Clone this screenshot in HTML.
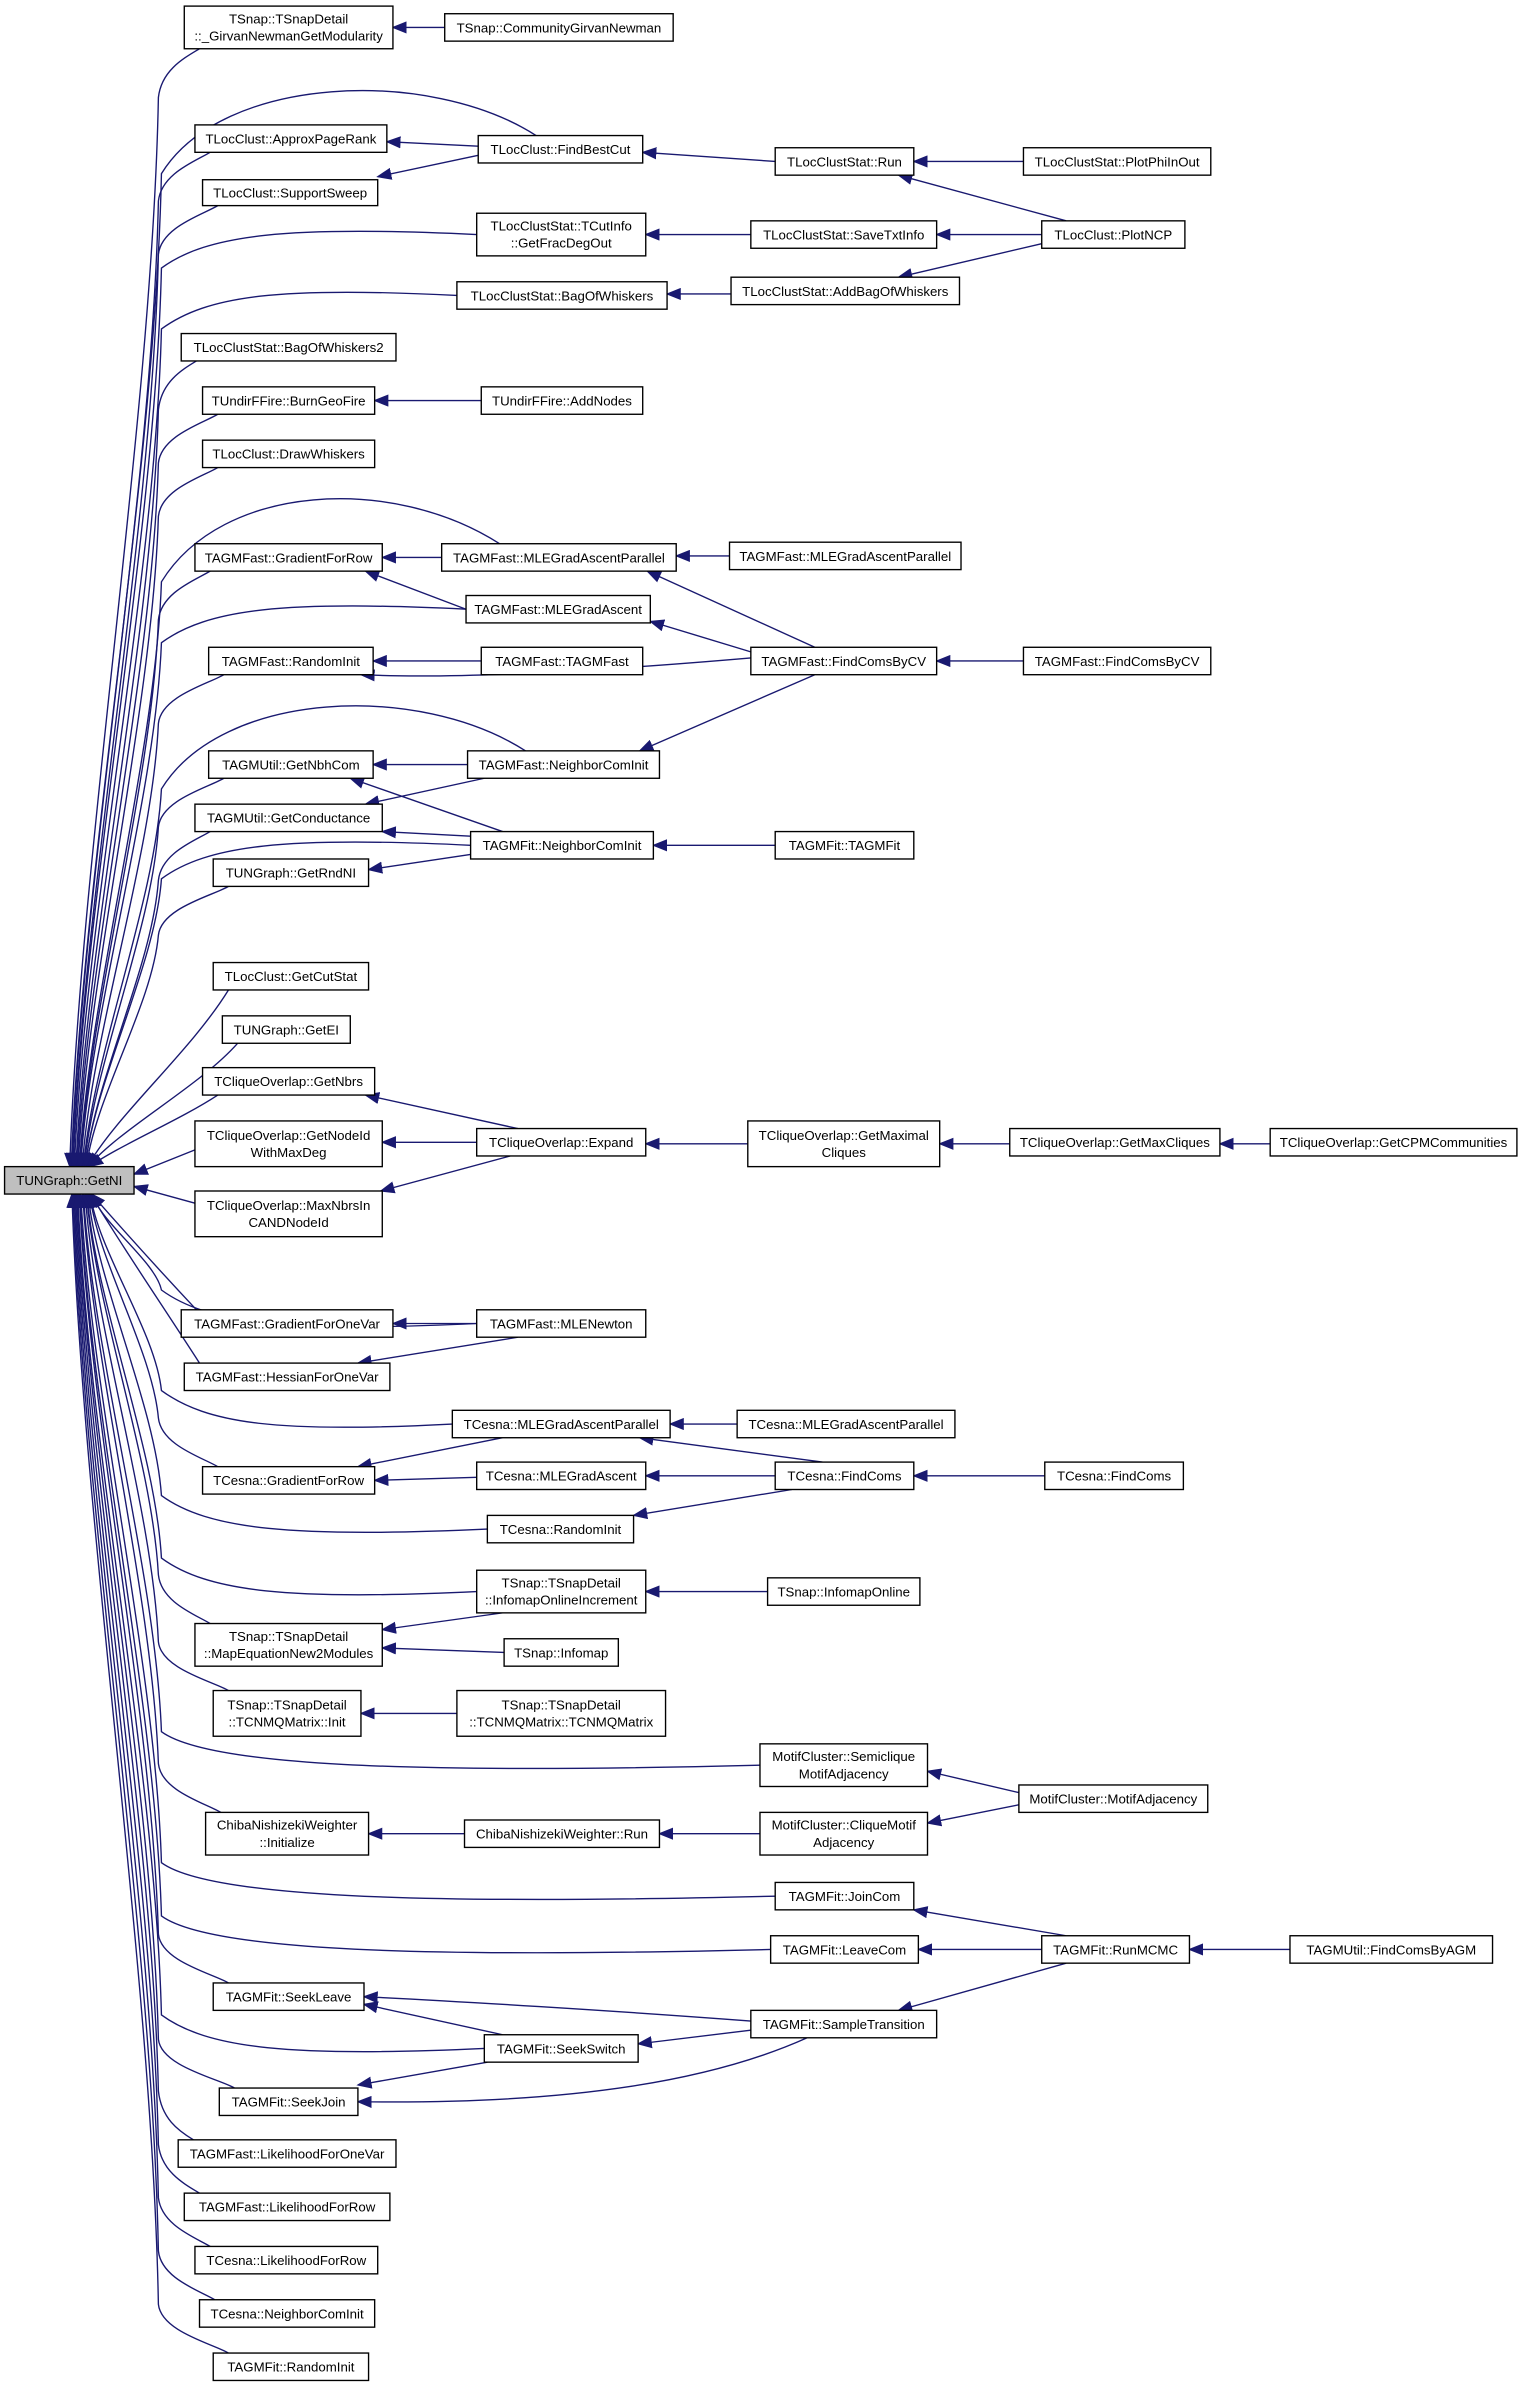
<!DOCTYPE html>
<html><head><meta charset="utf-8"><style>
html,body{margin:0;padding:0;background:#fff;}
svg{display:block}
text{font-family:"Liberation Sans",sans-serif;font-size:8.7px;fill:#000}
</style></head><body>
<svg id="g" width="1523" height="2389" viewBox="0 0 1000 1568.6" xmlns="http://www.w3.org/2000/svg">
<defs><marker id="a" markerWidth="10" markerHeight="8" refX="9" refY="4" orient="auto" markerUnits="userSpaceOnUse"><path d="M0,0 L10,4 L0,8 z" fill="#191970"/></marker></defs>
<g id="edges" fill="none" stroke="#191970" stroke-width="0.9"></g>
<g id="nodes"></g>
</svg>
<script>
var N=[
[3,766,88,784,"TUNGraph::GetNI"],
[121,4,258,32,"TSnap::TSnapDetail\n::_GirvanNewmanGetModularity"],
[292,9,442,27,"TSnap::CommunityGirvanNewman"],
[128,82,254,100,"TLocClust::ApproxPageRank"],
[314,89,422,107,"TLocClust::FindBestCut"],
[509,97,600,115,"TLocClustStat::Run"],
[672,97,795,115,"TLocClustStat::PlotPhiInOut"],
[133,118,248,135,"TLocClust::SupportSweep"],
[313,140,424,168,"TLocClustStat::TCutInfo\n::GetFracDegOut"],
[493,145,615,163,"TLocClustStat::SaveTxtInfo"],
[684,145,778,163,"TLocClust::PlotNCP"],
[300,185,438,203,"TLocClustStat::BagOfWhiskers"],
[480,182,630,200,"TLocClustStat::AddBagOfWhiskers"],
[119,219,260,237,"TLocClustStat::BagOfWhiskers2"],
[133,254,246,272,"TUndirFFire::BurnGeoFire"],
[316,254,422,272,"TUndirFFire::AddNodes"],
[133,289,246,307,"TLocClust::DrawWhiskers"],
[128,357,251,375,"TAGMFast::GradientForRow"],
[290,357,444,375,"TAGMFast::MLEGradAscentParallel"],
[479,356,631,374,"TAGMFast::MLEGradAscentParallel"],
[306,391,427,409,"TAGMFast::MLEGradAscent"],
[137,425,245,443,"TAGMFast::RandomInit"],
[316,425,422,443,"TAGMFast::TAGMFast"],
[493,425,615,443,"TAGMFast::FindComsByCV"],
[672,425,795,443,"TAGMFast::FindComsByCV"],
[137,493,245,511,"TAGMUtil::GetNbhCom"],
[307,493,433,511,"TAGMFast::NeighborComInit"],
[128,528,251,546,"TAGMUtil::GetConductance"],
[309,546,429,564,"TAGMFit::NeighborComInit"],
[509,546,600,564,"TAGMFit::TAGMFit"],
[140,564,242,582,"TUNGraph::GetRndNI"],
[140,632,242,650,"TLocClust::GetCutStat"],
[146,667,230,685,"TUNGraph::GetEI"],
[133,701,246,719,"TCliqueOverlap::GetNbrs"],
[128,736,251,766,"TCliqueOverlap::GetNodeId\nWithMaxDeg"],
[313,741,424,759,"TCliqueOverlap::Expand"],
[491,736,617,766,"TCliqueOverlap::GetMaximal\nCliques"],
[663,741,801,759,"TCliqueOverlap::GetMaxCliques"],
[834,741,996,759,"TCliqueOverlap::GetCPMCommunities"],
[128,782,251,812,"TCliqueOverlap::MaxNbrsIn\nCANDNodeId"],
[119,860,258,878,"TAGMFast::GradientForOneVar"],
[313,860,424,878,"TAGMFast::MLENewton"],
[121,895,256,913,"TAGMFast::HessianForOneVar"],
[297,926,440,944,"TCesna::MLEGradAscentParallel"],
[484,926,627,944,"TCesna::MLEGradAscentParallel"],
[133,963,246,981,"TCesna::GradientForRow"],
[313,960,424,978,"TCesna::MLEGradAscent"],
[509,960,600,978,"TCesna::FindComs"],
[686,960,777,978,"TCesna::FindComs"],
[320,995,416,1013,"TCesna::RandomInit"],
[313,1031,424,1059,"TSnap::TSnapDetail\n::InfomapOnlineIncrement"],
[504,1036,604,1054,"TSnap::InfomapOnline"],
[128,1066,251,1094,"TSnap::TSnapDetail\n::MapEquationNew2Modules"],
[331,1076,406,1094,"TSnap::Infomap"],
[140,1110,237,1140,"TSnap::TSnapDetail\n::TCNMQMatrix::Init"],
[300,1110,437,1140,"TSnap::TSnapDetail\n::TCNMQMatrix::TCNMQMatrix"],
[499,1145,609,1173,"MotifCluster::Semiclique\nMotifAdjacency"],
[669,1172,793,1190,"MotifCluster::MotifAdjacency"],
[135,1190,242,1218,"ChibaNishizekiWeighter\n::Initialize"],
[305,1195,433,1213,"ChibaNishizekiWeighter::Run"],
[499,1190,609,1218,"MotifCluster::CliqueMotif\nAdjacency"],
[509,1236,600,1254,"TAGMFit::JoinCom"],
[506,1271,603,1289,"TAGMFit::LeaveCom"],
[684,1271,781,1289,"TAGMFit::RunMCMC"],
[847,1271,980,1289,"TAGMUtil::FindComsByAGM"],
[140,1302,239,1320,"TAGMFit::SeekLeave"],
[493,1320,615,1338,"TAGMFit::SampleTransition"],
[318,1336,419,1354,"TAGMFit::SeekSwitch"],
[144,1371,235,1389,"TAGMFit::SeekJoin"],
[117,1405,260,1423,"TAGMFast::LikelihoodForOneVar"],
[121,1440,256,1458,"TAGMFast::LikelihoodForRow"],
[128,1475,248,1493,"TCesna::LikelihoodForRow"],
[131,1510,246,1528,"TCesna::NeighborComInit"],
[140,1545,242,1563,"TAGMFit::RandomInit"]
];
var E=[
[292,18,258,18],[314,96,254,93],[314,102,248,116],[509,106,422,100],[672,106,600,106],[700,145,590,115],
[493,154,424,154],[684,154,615,154],[480,193,438,193],[684,160,590,182],[316,263,246,263],
[290,366,251,366],[306,400,240,375],[479,365,444,365],[535,425,425,375],[493,428,427,408],
[316,434,245,434],[672,434,615,434],[307,502,245,502],[318,511,240,528],[535,443,420,493],
[330,546,230,511],[309,549,251,546],[309,561,242,571],[509,555,429,555],
[340,741,240,719],[313,750,251,750],[335,759,250,782],[491,751,424,751],[663,751,617,751],[834,751,801,751],
[313,869,258,869],[340,878,235,895],[330,944,235,963],[484,935,440,935],[540,960,420,944],
[313,970,246,972],[509,969,424,969],[686,969,600,969],[520,978,416,995],
[504,1045,424,1045],[330,1059,251,1070],[331,1085,251,1082],[300,1125,237,1125],
[669,1177,609,1163],[669,1185,609,1197],[499,1204,433,1204],[305,1204,242,1204],
[700,1271,600,1254],[684,1280,603,1280],[847,1280,781,1280],[700,1289,590,1320],
[493,1333,419,1342],[330,1336,239,1316],[320,1354,235,1369],
[128,755,88,771],[128,790,88,779]
];
var C=[
"M493,1327 C400,1320 300,1314 239,1311",
"M530,1338 C470,1365 380,1382 235,1380",
"M493,432 C400,440 300,446 237,443"
];
var col1=[1,3,7,13,14,16,17,21,25,27,30,31,32,33,40,42,45,52,54,58,65,68,69,70,71,72,73];
var farTop=[4,18,26];
var farLeft=[8,11,20,28,41,43,49,50,56,61,62,67];
var eg=document.getElementById('edges'),ng=document.getElementById('nodes');
var ns="http://www.w3.org/2000/svg";
function P(d){var p=document.createElementNS(ns,'path');p.setAttribute('d',d);p.setAttribute('marker-end','url(#a)');eg.appendChild(p);}
E.forEach(function(e){P("M"+e[0]+","+e[1]+" L"+e[2]+","+e[3]);});
C.forEach(P);
function endPt(cy){var above=cy<775;var t=Math.min(1,Math.abs(cy-775)/800);return [44+16*(1-t)+(above?0:2), above?766:784];}
function tail(Wx,Wy){var e=endPt(Wy);var dy=e[1]-Wy;
 return " C"+(Wx-4)+","+(Wy+0.3*dy)+" "+(e[0]+0.12*(Wx-e[0]))+","+(e[1]-0.3*dy)+" "+e[0]+","+e[1];}
col1.forEach(function(i){var n=N[i];var cy=(n[1]+n[3])/2;var above=cy<775;var s=above?1:-1;
 var Sx=n[0]+10,Sy=above?n[3]:n[1];var e=endPt(cy);
 if(Math.abs(e[1]-Sy)<140){P("M"+Sx+","+Sy+" C"+(Sx-25)+","+(Sy+0.35*(e[1]-Sy))+" "+(e[0]+20)+","+(e[1]-0.3*(e[1]-Sy))+" "+e[0]+","+e[1]);return;}
 var Wx=104,Wy=Sy+32*s;
 P("M"+Sx+","+Sy+" C"+(Sx-10)+","+(Sy+6*s)+" "+(Wx+2)+","+(Sy+14*s)+" "+Wx+","+Wy+tail(Wx,Wy));});
farTop.forEach(function(i){var n=N[i];var Sx=n[0]+38,Sy=n[1];var Wx=106,Wy=n[1]+25;
 P("M"+Sx+","+Sy+" C"+(Sx-70)+","+(Sy-45)+" "+(Wx+40)+","+(Sy-40)+" "+Wx+","+Wy+tail(Wx,Wy));});
farLeft.forEach(function(i){var n=N[i];var cy=(n[1]+n[3])/2;var above=cy<775;var s=above?1:-1;
 var Sx=n[0],Sy=cy;var Wx=106,Wy=cy+22*s;
 P("M"+Sx+","+Sy+" C"+(Sx-0.6*(Sx-Wx))+","+(Sy-6*s)+" "+(Wx+30)+","+(Sy)+" "+Wx+","+Wy+tail(Wx,Wy));});
N.forEach(function(n,i){var r=document.createElementNS(ns,'rect');r.setAttribute('x',n[0]);r.setAttribute('y',n[1]);
 r.setAttribute('width',n[2]-n[0]);r.setAttribute('height',n[3]-n[1]);r.setAttribute('fill',i==0?'#bfbfbf':'#fff');
 r.setAttribute('stroke','#000');r.setAttribute('stroke-width','0.9');ng.appendChild(r);
 var lines=n[4].split("\n");var cx=(n[0]+n[2])/2,cy=(n[1]+n[3])/2;
 lines.forEach(function(l,k){var t=document.createElementNS(ns,'text');t.setAttribute('x',cx);
  t.setAttribute('y',lines.length==1?cy+3.2:cy-2.6+k*11.2);t.setAttribute('text-anchor','middle');t.textContent=l;ng.appendChild(t);});
});
</script>
</body></html>
